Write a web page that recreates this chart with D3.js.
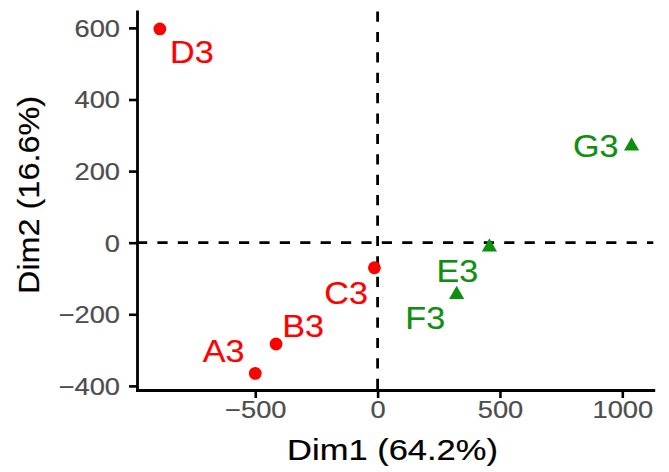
<!DOCTYPE html>
<html>
<head>
<meta charset="utf-8">
<script src="https://cdn.jsdelivr.net/npm/d3@7"></script>
<style>
  html, body { margin: 0; padding: 0; background: #ffffff; }
  svg { display: block; }
</style>
</head>
<body>
<script>
// ---- data ----
const names  = ["A3", "B3", "C3", "D3", "E3", "F3", "G3"];
const dim1   = [-500, -415, -13, -890, 457, 323, 1038];
const dim2   = [-365, -283, -70, 597, -6, -139, 276];
const groups = ["g1", "g1", "g1", "g1", "g2", "g2", "g2"];
const xTicks = [-500, 0, 500, 1000];
const yTicks = [-400, -200, 0, 200, 400, 600];
const xTitle = "Dim1 (64.2%)";
const yTitle = "Dim2 (16.6%)";

// ---- layout ----
const W = 669, H = 472;
const panel = { left: 137, right: 653.3, top: 11.5, bottom: 390 };
const xDomain = [-983.3, 1126.7];
const yDomain = [-411.5, 645.8];
const groupColor = { g1: "#FF0000", g2: "#0F8F0F" };
// label offsets (px) from each point: text centre x, baseline y
const labelOffsets = [[-31.6, -11.6], [27, -7.3], [-28.3, 35.5], [32, 33.7], [-32, 36.7], [-31.4, 36.5], [-35.9, 12.7]];
const FONT = "'Liberation Sans', Arial, Helvetica, sans-serif";
const fmt = d3.format("d");
const tickFmt = v => (v < 0 ? "\u2212" : "") + fmt(Math.abs(v));

const svg = d3.select("body").append("svg")
  .attr("width", W).attr("height", H)
  .attr("viewBox", `0 0 ${W} ${H}`);
svg.append("rect").attr("width", W).attr("height", H).attr("fill", "#fff");

const x = d3.scaleLinear().domain(xDomain).range([panel.left, panel.right]);
const y = d3.scaleLinear().domain(yDomain).range([panel.bottom, panel.top]);

// reference lines (dashed)
svg.append("line")
  .attr("x1", panel.left).attr("x2", panel.right)
  .attr("y1", y(0)).attr("y2", y(0))
  .attr("stroke", "#000").attr("stroke-width", 2.8)
  .attr("stroke-dasharray", "10.2,10.2");
svg.append("line")
  .attr("x1", x(0)).attr("x2", x(0))
  .attr("y1", panel.top).attr("y2", panel.bottom)
  .attr("stroke", "#000").attr("stroke-width", 2.8)
  .attr("stroke-dasharray", "10.2,10.2");

// axes
const xAxis = svg.append("g")
  .attr("transform", `translate(0,${panel.bottom})`)
  .call(d3.axisBottom(x).tickValues(xTicks).tickFormat(tickFmt).tickSize(8).tickSizeOuter(0));
const yAxis = svg.append("g")
  .attr("transform", `translate(${panel.left},0)`)
  .call(d3.axisLeft(y).tickValues(yTicks).tickFormat(tickFmt).tickSize(8).tickSizeOuter(0));

[xAxis, yAxis].forEach(g => {
  g.select(".domain").attr("stroke", "#000").attr("stroke-width", 2.8).attr("stroke-linecap", "square");
  g.selectAll(".tick line").attr("stroke", "#000").attr("stroke-width", 2.6);
  g.selectAll(".tick text")
    .attr("fill", "#4D4D4D")
    .attr("stroke", "#4D4D4D").attr("stroke-width", 0.2)
    .style("font-family", FONT)
    .style("font-size", "23.5px");
});
xAxis.selectAll(".tick text")
  .attr("y", 0).attr("dy", 0)
  .attr("transform", "translate(0,27.5) scale(1.16,1)");
yAxis.selectAll(".tick text")
  .attr("x", 0).attr("dy", "0.36em")
  .attr("text-anchor", "end")
  .attr("transform", "translate(-17,0) scale(1.16,1)");

// axis titles
svg.append("text")
  .attr("transform", "translate(392.5,459.5) scale(1.15,1)")
  .attr("text-anchor", "middle")
  .style("font-family", FONT).style("font-size", "30px")
  .attr("fill", "#000").attr("stroke", "#000").attr("stroke-width", 0.2)
  .text(xTitle);
svg.append("text")
  .attr("transform", "translate(38.8,195) rotate(-90) scale(1.08,1)")
  .attr("text-anchor", "middle")
  .style("font-family", FONT).style("font-size", "30px")
  .attr("fill", "#000").attr("stroke", "#000").attr("stroke-width", 0.2)
  .text(yTitle);

// points
const pts = names.map((n, i) => ({ name: n, x: dim1[i], y: dim2[i], g: groups[i], off: labelOffsets[i] }));

const triangleType = {
  draw(context, size) {
    // equilateral triangle centred on its bounding box; size = area
    const w = Math.sqrt(size * 4 / Math.sqrt(3));
    const h = w * Math.sqrt(3) / 2;
    context.moveTo(0, -h / 2);
    context.lineTo(w / 2, h / 2);
    context.lineTo(-w / 2, h / 2);
    context.closePath();
  }
};

const circleArea = Math.PI * 6.4 * 6.4;
const triArea = Math.sqrt(3) / 4 * 15.2 * 15.2;

svg.append("g").selectAll("path")
  .data(pts)
  .join("path")
  .attr("transform", d => `translate(${x(d.x)},${y(d.y)})`)
  .attr("d", d => d.g === "g1"
    ? d3.symbol(d3.symbolCircle, circleArea)()
    : d3.symbol(triangleType, triArea)())
  .attr("fill", d => groupColor[d.g]);

// labels
svg.append("g").selectAll("text")
  .data(pts)
  .join("text")
  .attr("transform", d => `translate(${x(d.x) + d.off[0]},${y(d.y) + d.off[1] + 0.5}) scale(1.1,1)`)
  .attr("text-anchor", "middle")
  .style("font-family", FONT).style("font-size", "31px")
  .attr("fill", d => groupColor[d.g])
  .attr("stroke", d => groupColor[d.g]).attr("stroke-width", 0.2)
  .text(d => d.name);
</script>
</body>
</html>
